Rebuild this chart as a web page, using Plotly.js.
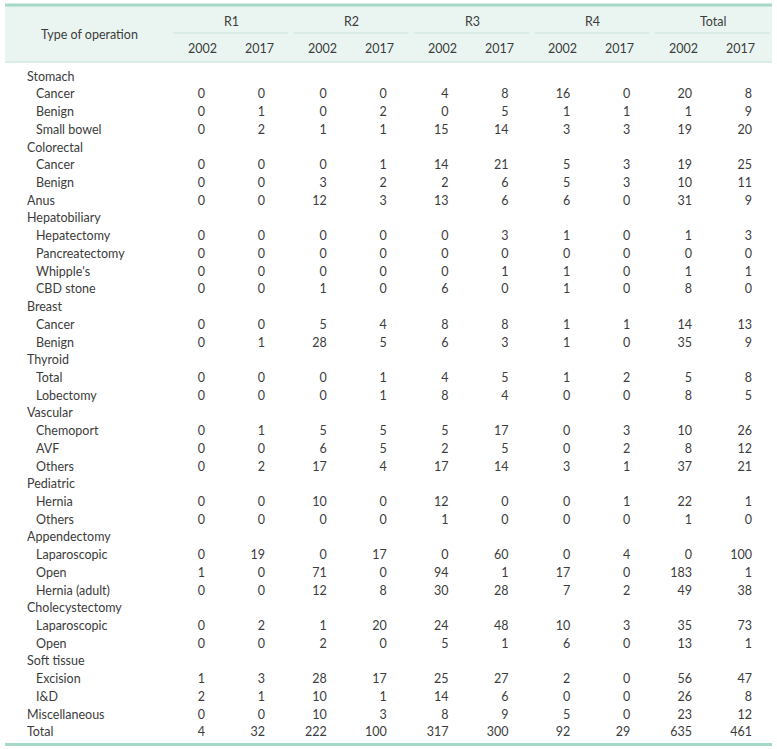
<!DOCTYPE html>
<html>
<head>
<meta charset="utf-8">
<script src="https://cdn.plot.ly/plotly-3.0.1.min.js"></script>
<style>html,body{margin:0;padding:0;background:#fff;}#chart{width:777px;height:749px;}</style>
</head>
<body>
<div id="chart"></div>
<script>
// ---- Data ----
var groups = ["R1", "R2", "R3", "R4", "Total"];
var years = ["2002", "2017"];
var headerLabel = "Type of operation";

var rowLabels = ["Stomach","Cancer","Benign","Small bowel","Colorectal","Cancer","Benign","Anus",
  "Hepatobiliary","Hepatectomy","Pancreatectomy","Whipple's","CBD stone","Breast","Cancer","Benign",
  "Thyroid","Total","Lobectomy","Vascular","Chemoport","AVF","Others","Pediatric","Hernia","Others",
  "Appendectomy","Laparoscopic","Open","Hernia (adult)","Cholecystectomy","Laparoscopic","Open",
  "Soft tissue","Excision","I&D","Miscellaneous","Total"];
var rowIndent = [0,1,1,1,0,1,1,0, 0,1,1,1,1,0,1,1, 0,1,1,0,1,1,1,0,1,1, 0,1,1,1,0,1,1, 0,1,1,0,0];

var N = null;
var r1_2002 = [N,0,0,0,N,0,0,0,N,0,0,0,0,N,0,0,N,0,0,N,0,0,0,N,0,0,N,0,1,0,N,0,0,N,1,2,0,4];
var r1_2017 = [N,0,1,2,N,0,0,0,N,0,0,0,0,N,0,1,N,0,0,N,1,0,2,N,0,0,N,19,0,0,N,2,0,N,3,1,0,32];
var r2_2002 = [N,0,0,1,N,0,3,12,N,0,0,0,1,N,5,28,N,0,0,N,5,6,17,N,10,0,N,0,71,12,N,1,2,N,28,10,10,222];
var r2_2017 = [N,0,2,1,N,1,2,3,N,0,0,0,0,N,4,5,N,1,1,N,5,5,4,N,0,0,N,17,0,8,N,20,0,N,17,1,3,100];
var r3_2002 = [N,4,0,15,N,14,2,13,N,0,0,0,6,N,8,6,N,4,8,N,5,2,17,N,12,1,N,0,94,30,N,24,5,N,25,14,8,317];
var r3_2017 = [N,8,5,14,N,21,6,6,N,3,0,1,0,N,8,3,N,5,4,N,17,5,14,N,0,0,N,60,1,28,N,48,1,N,27,6,9,300];
var r4_2002 = [N,16,1,3,N,5,5,6,N,1,0,1,1,N,1,1,N,1,0,N,0,0,3,N,0,0,N,0,17,7,N,10,6,N,2,0,5,92];
var r4_2017 = [N,0,1,3,N,3,3,0,N,0,0,0,0,N,1,0,N,2,0,N,3,2,1,N,1,0,N,4,0,2,N,3,0,N,0,0,0,29];
var tot_2002 = [N,20,1,19,N,19,10,31,N,1,0,1,8,N,14,35,N,5,8,N,10,8,37,N,22,1,N,0,183,49,N,35,13,N,56,26,23,635];
var tot_2017 = [N,8,9,20,N,25,11,9,N,3,0,1,0,N,13,9,N,8,5,N,26,12,21,N,1,0,N,100,1,38,N,73,1,N,47,8,12,461];

var columns = [r1_2002, r1_2017, r2_2002, r2_2017, r3_2002, r3_2017, r4_2002, r4_2017, tot_2002, tot_2017];

// ---- Layout helpers ----
var FONT = "Lato, 'Open Sans', sans-serif";
var TXT = "#3c3c3c";
var FS = 12.5;
var rowY = function(i){ return 77.6 + i*17.72; };
var valRight = function(g, y){ return 205 + g*121.75 + y*60; };
var hdrCenter = function(g, y){ return 202 + g*120.3 + y*57; };
var grpCenter = function(g){ return 231 + g*120.5; };

var traces = [];
// Row labels
var lx = [], ly = [], lt = [];
rowLabels.forEach(function(l, i){
  lx.push(rowIndent[i] ? 36 : 27);
  ly.push(rowY(i));
  lt.push(l);
});
traces.push({type:"scatter", mode:"text", x:lx, y:ly, text:lt, textposition:"middle right",
  textfont:{family:FONT, size:FS, color:TXT}, hoverinfo:"skip", showlegend:false, cliponaxis:false});

// Values
columns.forEach(function(col, c){
  var g = Math.floor(c/2), yr = c%2;
  var xs = [], ys = [], ts = [];
  col.forEach(function(v, i){
    if (v === null) return;
    xs.push(valRight(g, yr)); ys.push(rowY(i)); ts.push(String(v));
  });
  traces.push({type:"scatter", mode:"text", x:xs, y:ys, text:ts, textposition:"middle left",
    textfont:{family:FONT, size:FS, color:TXT}, hoverinfo:"skip", showlegend:false, cliponaxis:false});
});

// Header annotations
var ann = [];
ann.push({x:89, y:34.5, xref:"x", yref:"y", text:headerLabel, showarrow:false,
  font:{family:FONT, size:FS, color:TXT}, xanchor:"center", yanchor:"middle"});
groups.forEach(function(gname, g){
  ann.push({x:grpCenter(g), y:21, xref:"x", yref:"y", text:gname, showarrow:false,
    font:{family:FONT, size:FS, color:TXT}, xanchor:"center", yanchor:"middle"});
  years.forEach(function(yname, yr){
    ann.push({x:hdrCenter(g, yr), y:48.5, xref:"x", yref:"y", text:yname, showarrow:false,
      font:{family:FONT, size:FS, color:TXT}, xanchor:"center", yanchor:"middle"});
  });
});

// Shapes
var shapes = [];
shapes.push({type:"rect", xref:"x", yref:"y", x0:5, x1:772, y0:5, y1:62, fillcolor:"#eaf5f1", line:{width:0}, layer:"below"});
shapes.push({type:"line", xref:"x", yref:"y", x0:5, x1:772, y0:5, y1:5, line:{color:"#a6d8c7", width:3}});
shapes.push({type:"line", xref:"x", yref:"y", x0:5, x1:772, y0:62, y1:62, line:{color:"#d3eae2", width:1.5}});
shapes.push({type:"line", xref:"x", yref:"y", x0:5, x1:772, y0:744.5, y1:744.5, line:{color:"#a6d8c7", width:3}});
groups.forEach(function(gname, g){
  var a = 173 + g*120.5, b = (g === groups.length-1) ? 770 : 288 + g*120.5;
  shapes.push({type:"line", xref:"x", yref:"y", x0:a, x1:b, y0:33, y1:33, line:{color:"#d3eae2", width:1.5}});
});

var layout = {
  width:777, height:749,
  margin:{l:0, r:0, t:0, b:0, pad:0},
  paper_bgcolor:"#ffffff", plot_bgcolor:"#ffffff",
  xaxis:{range:[0,777], visible:false, fixedrange:true},
  yaxis:{range:[749,0], visible:false, fixedrange:true},
  showlegend:false, hovermode:false,
  annotations:ann, shapes:shapes
};
Plotly.newPlot("chart", traces, layout, {staticPlot:true, displayModeBar:false});
</script>
</body>
</html>
